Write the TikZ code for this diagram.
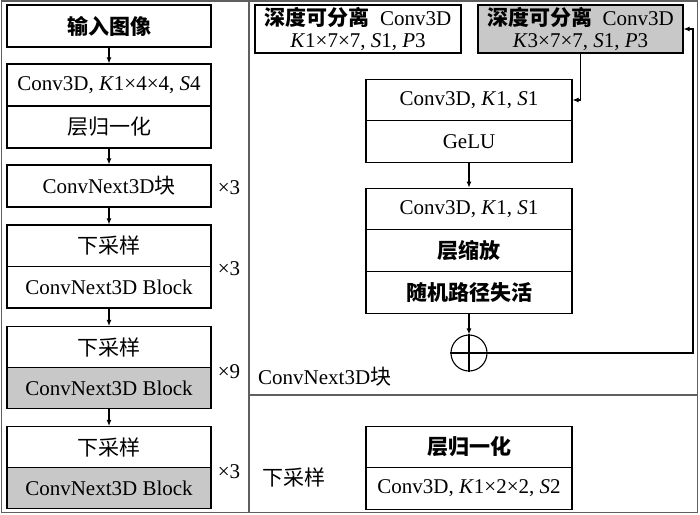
\documentclass[tikz,border=0pt]{standalone}
\usepackage{fontspec}
\setmainfont{Liberation Serif}
\newfontfamily\cjk{Noto Sans CJK SC}
\usetikzlibrary{arrows.meta}
\definecolor{boxgray}{RGB}{200,200,200}
\definecolor{framegray}{RGB}{95,95,95}
\begin{document}
\begin{tikzpicture}[x=1pt,y=-1pt,
  font=\fontsize{21}{22}\selectfont,
  cell/.style={draw, line width=1.1pt, minimum width=204pt, inner sep=0pt, anchor=center},
  graycell/.style={cell, fill=boxgray},
  arr/.style={line width=1.1pt, -{Latex[length=6pt,width=5pt]}},
  frame/.style={draw=framegray, line width=1.5pt},
  lbl/.style={inner sep=0pt}]
\useasboundingbox (0,0) rectangle (700,514);
% frame
\draw[frame] (1.5,1) rectangle (697.5,512.5);
\draw[frame] (249,1) -- (249,512.5);
\draw[frame] (249,395) -- (697.5,395);

% left column
\node[cell, minimum height=42pt] (in) at (109,26) {\cjk\bfseries 输入图像};
\node[cell, minimum height=42pt] (c2a) at (109,85) {Conv3D, \textit{K}1×4×4, \textit{S}4};
\node[cell, minimum height=42pt] (c2b) at (109,127) {\cjk 层归一化};
\node[cell, minimum height=42pt] (c3) at (109,186) {ConvNext3D{\cjk 块}};
\node[cell, minimum height=41.5pt] (c4a) at (109,245.75) {\cjk 下采样};
\node[cell, minimum height=41.5pt] (c4b) at (109,287.25) {ConvNext3D Block};
\node[cell, minimum height=41pt] (c5a) at (109,347) {\cjk 下采样};
\node[graycell, minimum height=41pt] (c5b) at (109,388) {ConvNext3D Block};
\node[cell, minimum height=41pt] (c6a) at (109,447) {\cjk 下采样};
\node[graycell, minimum height=41pt] (c6b) at (109,488) {ConvNext3D Block};

\draw[arr] (in.south) -- (c2a.north);
\draw[arr] (c2b.south) -- (c3.north);
\draw[arr] (c3.south) -- (c4a.north);
\draw[arr] (c4b.south) -- (c5a.north);
\draw[arr] (c5b.south) -- (c6a.north);

\node[lbl] (r1) at (229,188) {×3};
\node[lbl] (r2) at (229,269) {×3};
\node[lbl] (r3) at (229,372) {×9};
\node[lbl] (r4) at (229,472) {×3};

% right: ConvNext3D block
\node[cell, minimum width=206pt, minimum height=48pt, align=center] (A) at (358,29)
  {{\cjk\bfseries 深度可分离}\hspace{0.5em}Conv3D\\\textit{K}1×7×7, \textit{S}1, \textit{P}3};
\node[graycell, minimum width=205pt, minimum height=48pt, align=center] (B) at (580.5,29)
  {{\cjk\bfseries 深度可分离}\hspace{0.5em}Conv3D\\\textit{K}3×7×7, \textit{S}1, \textit{P}3};

\node[cell, minimum width=206pt, minimum height=41.5pt] (C1) at (469,100) {Conv3D, \textit{K}1, \textit{S}1};
\node[cell, minimum width=206pt, minimum height=41.5pt] (C2) at (469,141.5) {GeLU};
\node[cell, minimum width=206pt, minimum height=41.67pt] (D1) at (469,209) {Conv3D, \textit{K}1, \textit{S}1};
\node[cell, minimum width=206pt, minimum height=41.67pt] (D2) at (469,250.67) {\cjk\bfseries 层缩放};
\node[cell, minimum width=206pt, minimum height=41.67pt] (D3) at (469,292.33) {\cjk\bfseries 随机路径失活};
\node[draw, circle, line width=1.1pt, minimum size=36pt, inner sep=0pt] (plus) at (469,353) {};
\draw[line width=1.1pt] (plus.north) -- (plus.south) (plus.west) -- (plus.east);

\coordinate (loop) at (693,353);
\draw[arr] (B.south) |- (C1.east);
\draw[arr] (C2.south) -- (D1.north);
\draw[arr] (D3.south) -- (plus.north);
\draw[arr] (plus.east) -- (loop) |- (B.east);

\node[lbl, anchor=west] (lblblock) at (258,377) {ConvNext3D{\cjk 块}};

% right: downsample
\node[cell, minimum width=206pt, minimum height=41.5pt] (E1) at (469,447) {\cjk\bfseries 层归一化};
\node[cell, minimum width=206pt, minimum height=41.5pt] (E2) at (469,488.5) {Conv3D, \textit{K}1×2×2, \textit{S}2};
\node[lbl, anchor=west] (lbldown) at (262,477) {\cjk 下采样};
\end{tikzpicture}
\end{document}
